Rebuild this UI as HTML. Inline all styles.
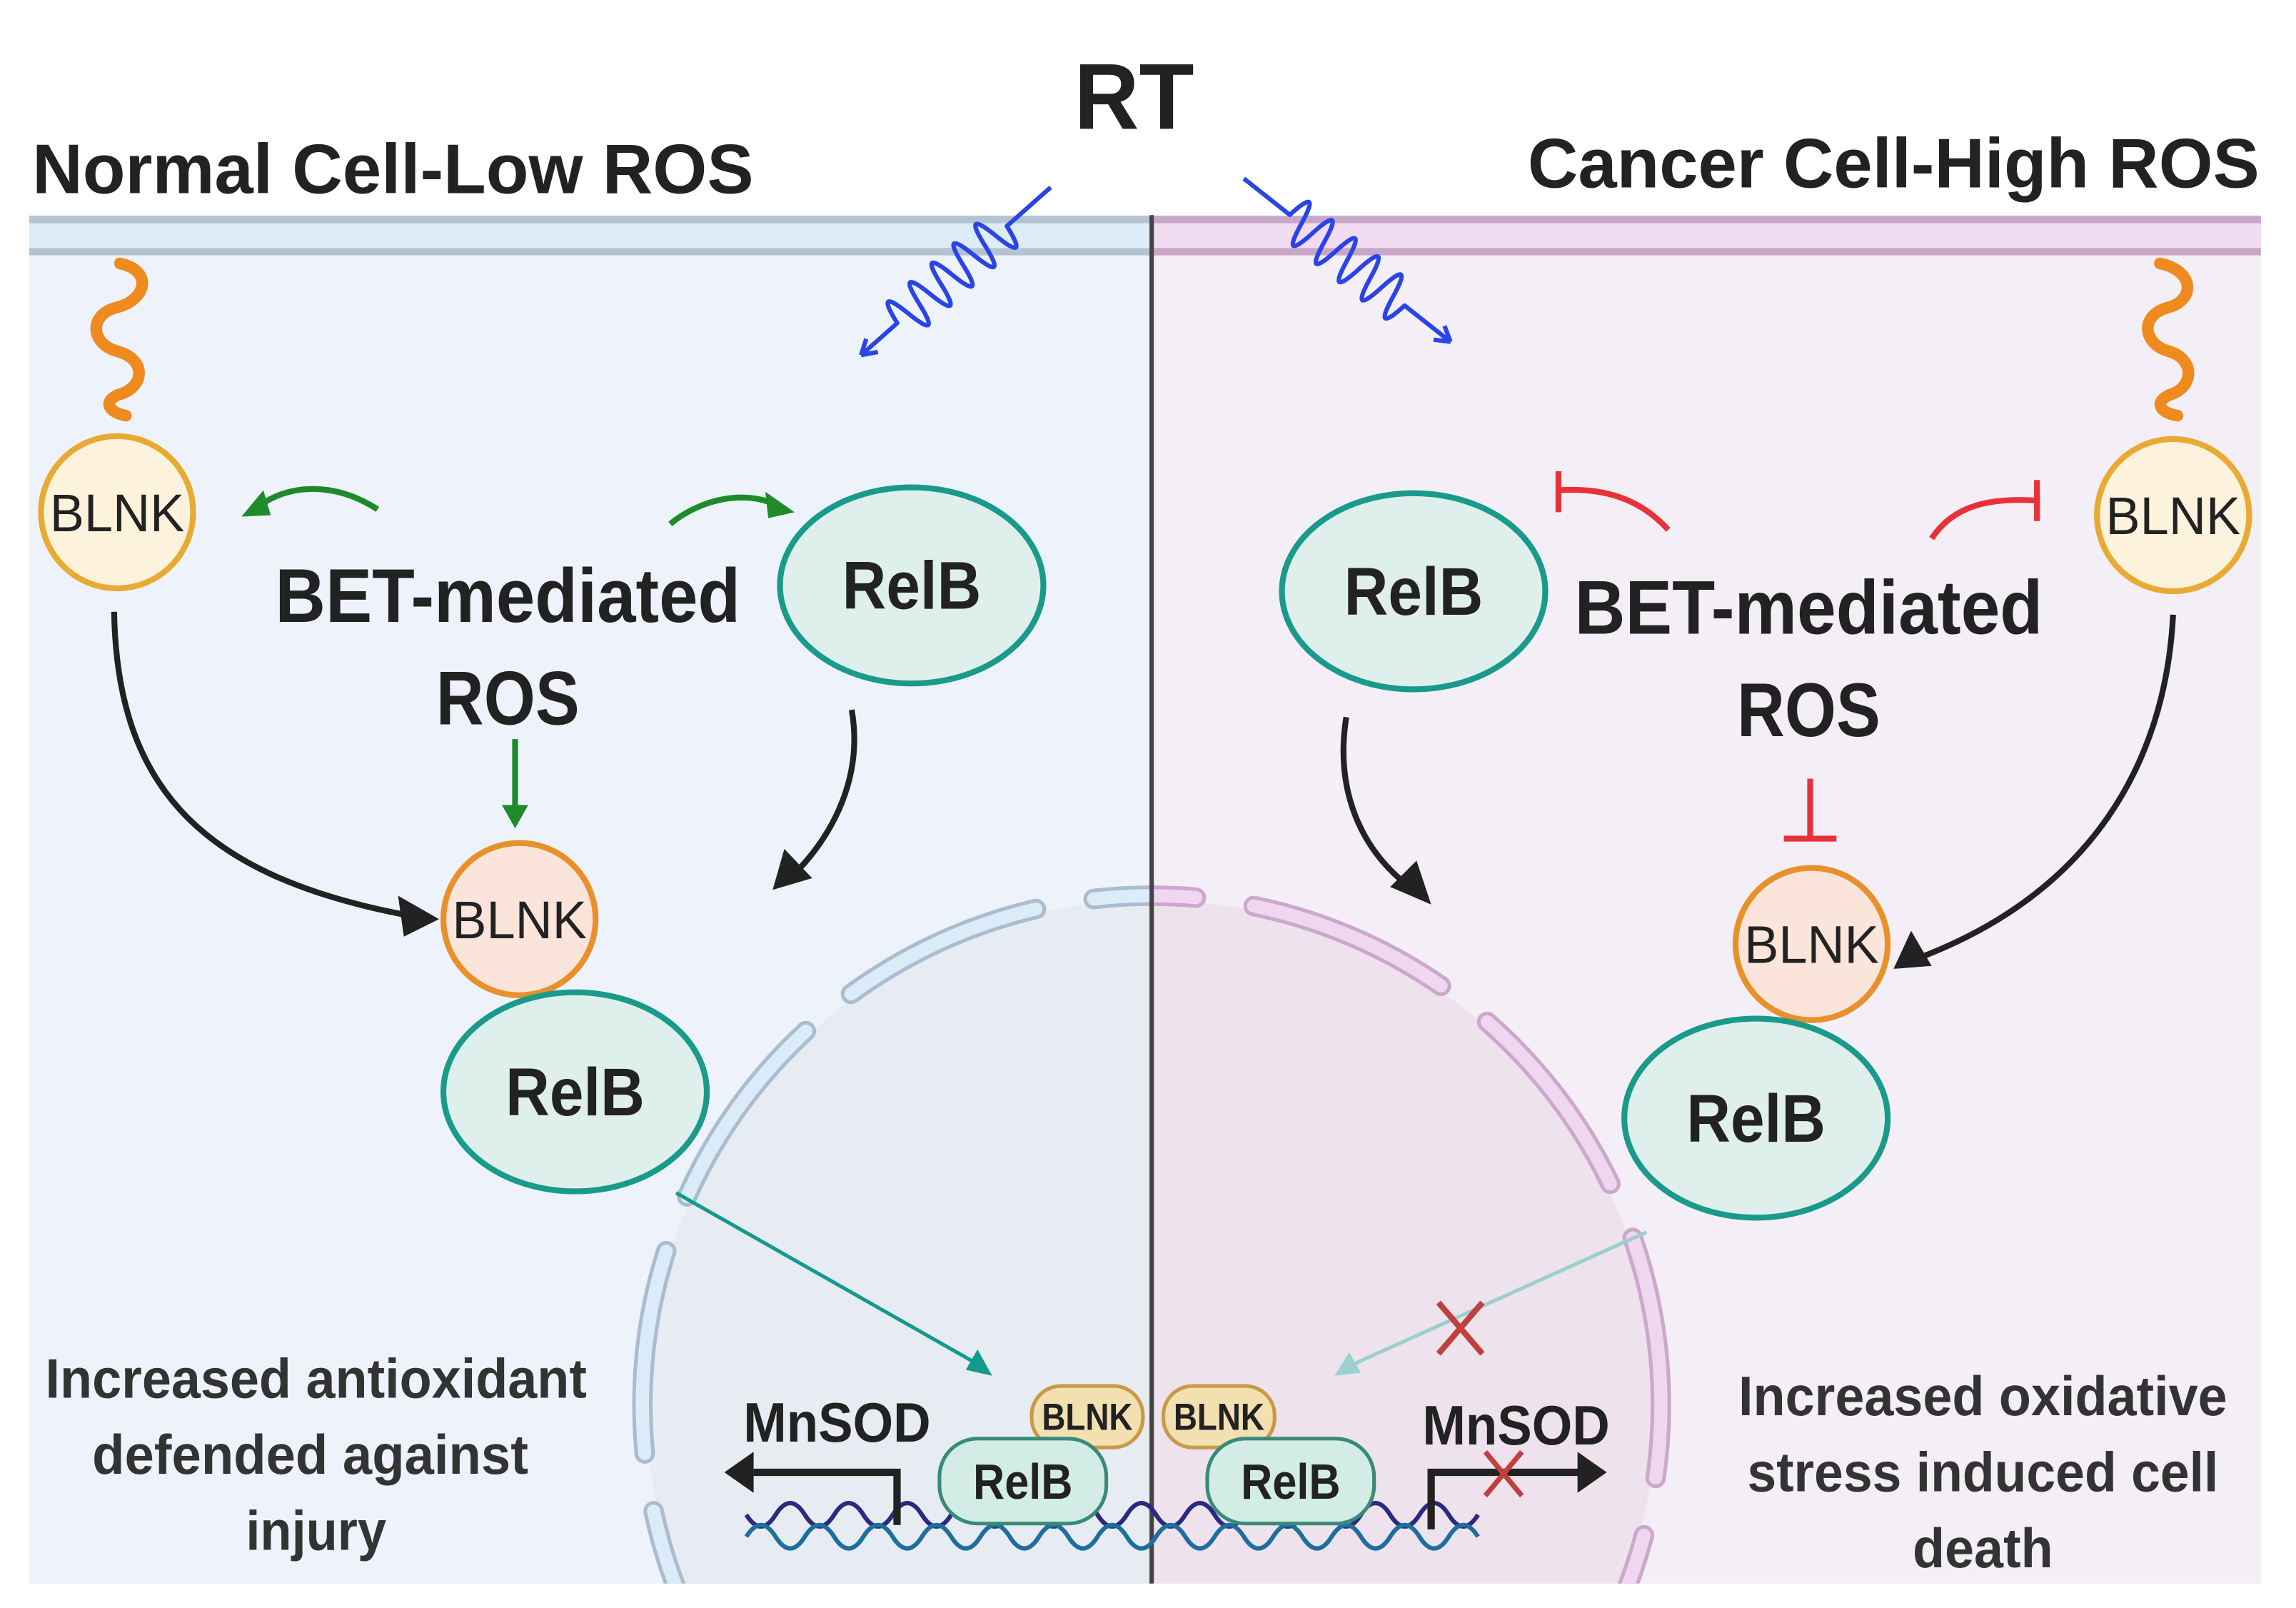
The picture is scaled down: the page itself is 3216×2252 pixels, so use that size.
<!DOCTYPE html>
<html><head><meta charset="utf-8"><style>
html,body{margin:0;padding:0;background:#fff;overflow:hidden;width:3216px;height:2252px}
svg{display:block}
text{font-family:"Liberation Sans",sans-serif;}
</style></head><body>
<svg width="3216" height="2252" viewBox="0 0 1569 1098.7" preserveAspectRatio="none" xmlns="http://www.w3.org/2000/svg">
<defs>
<clipPath id="cl"><rect x="20" y="147" width="767" height="935"/></clipPath>
<clipPath id="cr"><rect x="787" y="147" width="758" height="935"/></clipPath>
</defs>
<rect x="20" y="147" width="767" height="935" fill="#eef3fb"/>
<rect x="787" y="147" width="758" height="935" fill="#f4eff6"/>
<circle cx="787" cy="960" r="345" fill="#e6ecf1" clip-path="url(#cl)"/>
<circle cx="787" cy="960" r="345" fill="#eee2ec" clip-path="url(#cr)"/>
<g clip-path="url(#cl)" fill="none" stroke-linecap="round">
<circle cx="787" cy="960" r="348" stroke="#a9bdcf" stroke-width="14" stroke-dasharray="140 40" stroke-dashoffset="20"/>
<circle cx="787" cy="960" r="348" stroke="#dcebf8" stroke-width="9" stroke-dasharray="140 40" stroke-dashoffset="20"/>
</g>
<g clip-path="url(#cr)" fill="none" stroke-linecap="round">
<circle cx="787" cy="960" r="348" stroke="#cba8cc" stroke-width="14" stroke-dasharray="140 40" stroke-dashoffset="90"/>
<circle cx="787" cy="960" r="348" stroke="#efd8ef" stroke-width="9" stroke-dasharray="140 40" stroke-dashoffset="90"/>
</g>
<rect x="20" y="150" width="767" height="22" fill="#dcecf8"/>
<line x1="20" y1="150" x2="787" y2="150" stroke="#b3c3cf" stroke-width="5"/>
<line x1="20" y1="172" x2="787" y2="172" stroke="#b3c3cf" stroke-width="5"/>
<rect x="787" y="150" width="758" height="22" fill="#f1dcf1"/>
<line x1="787" y1="150" x2="1545" y2="150" stroke="#c8a6c8" stroke-width="5"/>
<line x1="787" y1="172" x2="1545" y2="172" stroke="#c8a6c8" stroke-width="5"/>
<line x1="787" y1="147" x2="787" y2="1082" stroke="#444" stroke-width="3"/>
<text x="775" y="88" font-size="64" font-weight="bold" text-anchor="middle" fill="#222" textLength="82" lengthAdjust="spacingAndGlyphs">RT</text>
<text x="22" y="132" font-size="48" font-weight="bold" fill="#222" textLength="493" lengthAdjust="spacingAndGlyphs">Normal Cell-Low ROS</text>
<text x="1044" y="128" font-size="48" font-weight="bold" fill="#222" textLength="500" lengthAdjust="spacingAndGlyphs">Cancer Cell-High ROS</text>
<g fill="none" stroke="#2a44e6" stroke-width="3" stroke-linejoin="round">
<g transform="translate(718,128) rotate(138.5)">
<path d="M0,0 L40,0 q5,-30 10,0 t10,0 t10,0 t10,0 t10,0 t10,0 t10,0 t10,0 t10,0 t10,0 L173,0"/>
<path d="M173,0 l-10,-6 M173,0 l-10,6"/>
</g>
<g transform="translate(850,122) rotate(38.3)">
<path d="M0,0 L40,0 q5,-30 10,0 t10,0 t10,0 t10,0 t10,0 t10,0 t10,0 t10,0 t10,0 t10,0 L180,0"/>
<path d="M180,0 l-10,-6 M180,0 l-10,6"/>
</g>
</g>
<g fill="none" stroke="#ef8a1e" stroke-width="8" stroke-linecap="round">
<path d="M82,180 C105,185 100,205 80,210 C60,215 62,235 80,240 C100,245 100,265 80,270 C70,275 75,282 86,284"/>
<path d="M1476,180 C1500,185 1500,205 1482,210 C1462,215 1464,235 1482,240 C1500,245 1500,265 1482,270 C1472,275 1476,282 1488,284"/>
</g>
<circle cx="80" cy="350" r="52" fill="#fdf3dc" stroke="#e8aa32" stroke-width="4"/>
<text x="80" y="363" font-size="36" text-anchor="middle" fill="#222" textLength="92" lengthAdjust="spacingAndGlyphs">BLNK</text>
<circle cx="1485" cy="352" r="52" fill="#fdf3dc" stroke="#e8aa32" stroke-width="4"/>
<text x="1485" y="365" font-size="36" text-anchor="middle" fill="#222" textLength="92" lengthAdjust="spacingAndGlyphs">BLNK</text>
<ellipse cx="623" cy="400" rx="90" ry="67" fill="#dff0ec" stroke="#1a9a8a" stroke-width="4"/>
<text x="623" y="416" font-size="46" font-weight="bold" text-anchor="middle" fill="#222" textLength="95" lengthAdjust="spacingAndGlyphs">RelB</text>
<ellipse cx="966" cy="404" rx="90" ry="67" fill="#dff0ec" stroke="#1a9a8a" stroke-width="4"/>
<text x="966" y="420" font-size="46" font-weight="bold" text-anchor="middle" fill="#222" textLength="95" lengthAdjust="spacingAndGlyphs">RelB</text>
<g font-size="52" font-weight="bold" fill="#222" text-anchor="middle">
<text x="347" y="425" textLength="318" lengthAdjust="spacingAndGlyphs">BET-mediated</text>
<text x="347" y="495" textLength="98" lengthAdjust="spacingAndGlyphs">ROS</text>
<text x="1236" y="433" textLength="320" lengthAdjust="spacingAndGlyphs">BET-mediated</text>
<text x="1236" y="503" textLength="98" lengthAdjust="spacingAndGlyphs">ROS</text>
</g>
<g fill="none" stroke="#1e8a2a" stroke-width="4">
<path d="M258,348 C230,330 200,330 178,345"/>
<path d="M458,358 C480,340 510,335 530,345"/>
<line x1="352" y1="505" x2="352" y2="555"/>
</g>
<path d="M165,353 L180,335 L185,352 Z" fill="#1e8a2a"/>
<path d="M543,350 L523,336 L525,354 Z" fill="#1e8a2a"/>
<path d="M343,550 L361,550 L352,566 Z" fill="#1e8a2a"/>
<g fill="none" stroke="#e8323a" stroke-width="4">
<path d="M1140,362 C1120,340 1095,333 1065,335"/>
<line x1="1065" y1="322" x2="1065" y2="350"/>
<path d="M1320,368 C1335,345 1360,340 1392,342"/>
<line x1="1392" y1="328" x2="1392" y2="356"/>
<line x1="1237" y1="532" x2="1237" y2="572"/>
<line x1="1219" y1="573" x2="1255" y2="573"/>
</g>
<g fill="none" stroke="#222" stroke-width="4">
<path d="M78,418 C80,540 140,600 282,626"/>
<path d="M582,485 C590,530 570,570 542,598"/>
<path d="M920,490 C912,540 930,580 962,605"/>
<path d="M1485,420 C1480,520 1430,610 1310,655"/>
</g>
<path d="M300,628 L272,612 L276,640 Z" fill="#222"/>
<path d="M528,608 L536,580 L555,600 Z" fill="#222"/>
<path d="M978,618 L950,606 L968,588 Z" fill="#222"/>
<path d="M1294,662 L1306,636 L1320,660 Z" fill="#222"/>
<circle cx="355" cy="628" r="52" fill="#fbe4da" stroke="#e8902c" stroke-width="4"/>
<text x="355" y="641" font-size="36" text-anchor="middle" fill="#222" textLength="92" lengthAdjust="spacingAndGlyphs">BLNK</text>
<circle cx="1238" cy="645" r="52" fill="#fbe4da" stroke="#e8902c" stroke-width="4"/>
<text x="1238" y="658" font-size="36" text-anchor="middle" fill="#222" textLength="92" lengthAdjust="spacingAndGlyphs">BLNK</text>
<ellipse cx="393" cy="746" rx="90" ry="68" fill="#dff0ec" stroke="#1a9a8a" stroke-width="4"/>
<text x="393" y="762" font-size="46" font-weight="bold" text-anchor="middle" fill="#222" textLength="95" lengthAdjust="spacingAndGlyphs">RelB</text>
<ellipse cx="1200" cy="764" rx="90" ry="68" fill="#dff0ec" stroke="#1a9a8a" stroke-width="4"/>
<text x="1200" y="780" font-size="46" font-weight="bold" text-anchor="middle" fill="#222" textLength="95" lengthAdjust="spacingAndGlyphs">RelB</text>
<line x1="462" y1="815" x2="668" y2="932" stroke="#149a8c" stroke-width="2.5"/>
<path d="M678,940 L660,936 L668,922 Z" fill="#149a8c"/>
<line x1="1125" y1="842" x2="925" y2="932" stroke="#9ccfd0" stroke-width="2.5"/>
<path d="M912,940 L922,924 L930,938 Z" fill="#9ccfd0"/>
<g stroke="#c0403f" stroke-width="4">
<line x1="983" y1="890" x2="1013" y2="925"/><line x1="1013" y1="890" x2="983" y2="925"/>
</g>
<g fill="none" stroke-width="3">
<path d="M510,1035 q10,16 20,0 t20,0 t20,0 t20,0 t20,0 t20,0 t20,0 t20,0 t20,0 t20,0 t20,0 t20,0 t20,0 t20,0 t20,0 t20,0 t20,0 t20,0 t20,0 t20,0 t20,0 t20,0 t20,0 t20,0 t20,0" stroke="#2a2a80"/>
<path d="M510,1050 q10,-16 20,0 t20,0 t20,0 t20,0 t20,0 t20,0 t20,0 t20,0 t20,0 t20,0 t20,0 t20,0 t20,0 t20,0 t20,0 t20,0 t20,0 t20,0 t20,0 t20,0 t20,0 t20,0 t20,0 t20,0 t20,0" stroke="#1e6ea0"/>
</g>
<g fill="none" stroke="#222" stroke-width="5">
<path d="M613,1042 L613,1006 L515,1006"/>
<path d="M978,1045 L978,1006 L1080,1006"/>
</g>
<path d="M495,1006 L515,992 L515,1020 Z" fill="#222"/>
<path d="M1098,1006 L1078,992 L1078,1020 Z" fill="#222"/>
<g stroke="#c0403f" stroke-width="3.5">
<line x1="1015" y1="992" x2="1040" y2="1022"/><line x1="1040" y1="992" x2="1015" y2="1022"/>
</g>
<rect x="705" y="947" width="76" height="42" rx="20" fill="#f2e0b0" stroke="#c89a48" stroke-width="2.5"/>
<text x="743" y="977" font-size="26" font-weight="bold" text-anchor="middle" fill="#222" textLength="62" lengthAdjust="spacingAndGlyphs">BLNK</text>
<rect x="795" y="947" width="76" height="42" rx="20" fill="#f2e0b0" stroke="#c89a48" stroke-width="2.5"/>
<text x="833" y="977" font-size="26" font-weight="bold" text-anchor="middle" fill="#222" textLength="62" lengthAdjust="spacingAndGlyphs">BLNK</text>
<rect x="642" y="983" width="114" height="58" rx="26" fill="#d3ede6" stroke="#3a8a7a" stroke-width="2.5"/>
<text x="699" y="1024" font-size="34" font-weight="bold" text-anchor="middle" fill="#222" textLength="68" lengthAdjust="spacingAndGlyphs">RelB</text>
<rect x="825" y="983" width="114" height="58" rx="26" fill="#d3ede6" stroke="#3a8a7a" stroke-width="2.5"/>
<text x="882" y="1024" font-size="34" font-weight="bold" text-anchor="middle" fill="#222" textLength="68" lengthAdjust="spacingAndGlyphs">RelB</text>
<text x="572" y="985" font-size="38" font-weight="bold" text-anchor="middle" fill="#222" textLength="128" lengthAdjust="spacingAndGlyphs">MnSOD</text>
<text x="1036" y="987" font-size="38" font-weight="bold" text-anchor="middle" fill="#222" textLength="128" lengthAdjust="spacingAndGlyphs">MnSOD</text>
<g font-size="38" font-weight="bold" fill="#333" text-anchor="middle">
<text x="216" y="955" textLength="370" lengthAdjust="spacingAndGlyphs">Increased antioxidant</text>
<text x="212" y="1007" textLength="298" lengthAdjust="spacingAndGlyphs">defended against</text>
<text x="216" y="1059" textLength="96" lengthAdjust="spacingAndGlyphs">injury</text>
<text x="1355" y="967" textLength="334" lengthAdjust="spacingAndGlyphs">Increased oxidative</text>
<text x="1355" y="1019" textLength="322" lengthAdjust="spacingAndGlyphs">stress induced cell</text>
<text x="1355" y="1071" textLength="96" lengthAdjust="spacingAndGlyphs">death</text>
</g>
</svg>
</body></html>
